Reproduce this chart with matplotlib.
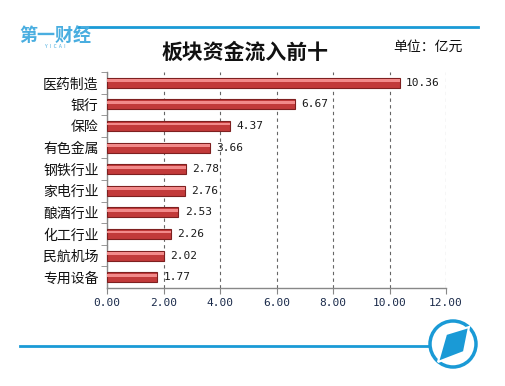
import matplotlib.pyplot as plt
from matplotlib.patches import Ellipse, Polygon
from matplotlib.lines import Line2D

plt.rcParams['font.family'] = ['Noto Sans CJK SC', 'DejaVu Sans']

# 数据
sectors = ["医药制造", "银行", "保险", "有色金属", "钢铁行业",
           "家电行业", "酿酒行业", "化工行业", "民航机场", "专用设备"]
inflow = [10.36, 6.67, 4.37, 3.66, 2.78, 2.76, 2.53, 2.26, 2.02, 1.77]
xticks = [0, 2, 4, 6, 8, 10, 12]

W, H = 505, 386
fig = plt.figure(figsize=(W / 100, H / 100), dpi=100)
fig.patch.set_facecolor('white')

ax = fig.add_axes([107 / W, 1 - 288 / H, (446 - 107) / W, (288 - 72) / H])
pos = list(range(len(sectors)))

# barres avec effet de relief
ax.barh(pos, inflow, height=0.46, color='#c23a3a', edgecolor='#7e2020',
        linewidth=0.8, zorder=3)
ax.barh([p - 0.09 for p in pos], inflow, height=0.13, color='#f28a8a',
        linewidth=0, zorder=4)

for p, v in zip(pos, inflow):
    ax.text(v + 0.22, p, f"{v:.2f}", va='center', ha='left',
            fontsize=8, family='DejaVu Sans Mono', color='#1a1a1a', zorder=5)

ax.set_xlim(0, 12)
ax.set_ylim(len(sectors) - 0.5, -0.5)
ax.set_xticks(xticks)
ax.set_xticklabels([f"{t:.2f}" for t in xticks], family='DejaVu Sans Mono',
                   fontsize=8, color='#1a2a4a')
ax.set_yticks(pos)
ax.set_yticklabels(sectors, fontsize=10, color='#111111')
ax.set_yticks([p + 0.5 for p in pos[:-1]] + [-0.5], minor=True)
ax.tick_params(axis='y', which='major', length=0, pad=6)
ax.tick_params(axis='y', which='minor', length=4, color='#888888')
ax.tick_params(axis='x', length=4, color='#888888', pad=3)

ax.grid(axis='x', linestyle=(0, (3, 3)), color='#666666', linewidth=0.8, zorder=0)
for s in ['top', 'right']:
    ax.spines[s].set_visible(False)
for s in ['left', 'bottom']:
    ax.spines[s].set_color('#888888')
    ax.spines[s].set_linewidth(1.0)

# titre
fig.text(245 / W, 1 - 52 / H, "板块资金流入前十", ha='center', va='center',
         fontsize=15, fontweight='bold', color='#111111')
fig.text(428 / W, 1 - 47 / H, "单位：亿元", ha='center', va='center',
         fontsize=10, color='#111111')

# lignes bleues
blue = '#1a9ad6'
fig.add_artist(Line2D([78 / W, 478 / W], [1 - 27 / H, 1 - 27 / H],
                      color=blue, linewidth=2))
fig.add_artist(Line2D([20 / W, 428 / W], [1 - 346 / H, 1 - 346 / H],
                      color=blue, linewidth=2))

# logo
fig.text(55 / W, 1 - 36 / H, "第一财经", ha='center', va='center',
         fontsize=13, fontweight='bold', color='#4aaee0')
fig.text(55 / W, 1 - 47 / H, "Y  I  C  A  I", ha='center', va='center',
         fontsize=3.5, color='#4aaee0')

cx, cy, r = 453, 344, 23
fig.add_artist(Ellipse((cx / W, 1 - cy / H), 2 * r / W, 2 * r / H,
                       transform=fig.transFigure, fill=False,
                       edgecolor=blue, linewidth=2.5))
para = [(438, 362), (446, 334), (469, 327), (464, 352)]
fig.add_artist(Polygon([(x / W, 1 - y / H) for x, y in para], closed=True,
                       transform=fig.transFigure, facecolor=blue,
                       edgecolor='white', linewidth=1.5))

fig.savefig('out.png', dpi=100, facecolor='white')
